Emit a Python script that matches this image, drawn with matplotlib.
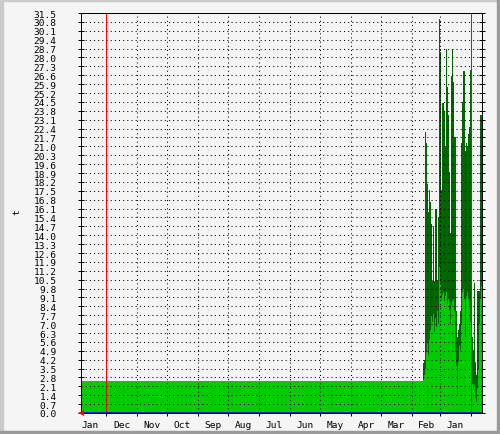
import matplotlib
matplotlib.use("Agg")
import matplotlib.pyplot as plt
from matplotlib.patches import Rectangle
import numpy as np

# ---- data ----
month_labels = ["Jan", "Dec", "Nov", "Oct", "Sep", "Aug", "Jul", "Jun",
                "May", "Apr", "Mar", "Feb", "Jan"]
month_lengths = [31, 31, 30, 31, 30, 31, 31, 30, 31, 30, 31, 28, 31]
first_month_start = -6          # first (partial) Jan starts before the left edge
total_days = 401
year_marks = [25, 390]          # red vertical rules

flat_level = 2.55               # constant level before the active period
recent_start = 340
max_vals = [2.55, 2.55, 3.9, 4.2, 22.1, 21.3, 18.0, 15.8, 17.6, 16.6, 14.9, 10.4,
            14.7, 10.4, 16.1, 16.1, 10.5, 15.4, 31.0, 28.4, 17.6, 24.4, 24.4, 23.7,
            21.0, 28.7, 25.7, 23.5, 19.0, 14.2, 26.5, 28.7, 26.1, 21.7, 21.7, 8.0,
            6.0, 6.5, 7.0, 8.0, 21.3, 24.5, 26.9, 26.9, 20.6, 21.3, 21.0, 22.0,
            22.5, 27.0, 10.0, 6.0, 5.0, 10.2, 4.0, 3.0, 9.6, 9.6, 9.6, 23.5, 23.5]
avg_vals = [2.55, 2.55, 2.6, 3.0, 3.5, 4.8, 5.5, 4.6, 5.8, 6.5, 7.6, 7.2, 7.8, 6.4,
            7.5, 6.8, 8.0, 7.0, 11.5, 10.2, 9.0, 9.3, 9.5, 8.8, 9.2, 9.5, 8.6, 9.0,
            8.0, 7.0, 8.5, 8.8, 9.0, 8.0, 4.8, 3.7, 1.5, 4.0, 5.3, 5.0, 7.0, 9.5,
            9.8, 9.0, 6.0, 9.2, 9.5, 9.0, 8.5, 7.2, 2.0, 2.3, 1.8, 2.2, 1.2, 0.9,
            2.0, 3.5, 7.0, 9.0, 10.0]
y_max = 31.5
y_step = 0.7
y_label = "t"

# ---- figure ----
W, H = 500, 435
bg = "#F5F5F5"
fig = plt.figure(figsize=(W / 100, H / 100), dpi=100, facecolor=bg)
L, R, T, B = 81, 482, 14, 414
ax = fig.add_axes([L / W, 1 - B / H, (R - L) / W, (B - T) / H], facecolor=bg)

days = np.arange(recent_start, recent_start + len(max_vals))
xs = np.concatenate([[0], days, [total_days]])
ymax_s = np.concatenate([[flat_level], max_vals, [max_vals[-1]]])
yavg_s = np.concatenate([[flat_level], avg_vals, [avg_vals[-1]]])

ax.fill_between(xs, 0, ymax_s, step="post", color="#006600", linewidth=0, zorder=1)
ax.fill_between(xs, 0, yavg_s, step="post", color="#00CC00", linewidth=0, zorder=2)

ax.set_xlim(0, total_days)
ax.set_ylim(0, y_max)

# month boundaries and centres
starts = np.cumsum([first_month_start] + month_lengths[:-1])
bounds = [s for s in np.cumsum([first_month_start] + month_lengths) if 0 < s < total_days]
centres = [s + n / 2 for s, n in zip(starts, month_lengths)]

yt = np.round(np.arange(0, y_max + 1e-9, y_step), 1)
grid_kw = dict(color="black", linewidth=0.75, linestyle=(0, (1.0, 3.0)), zorder=3)
for v in yt[1:]:
    ax.axhline(v, **grid_kw)
for b in bounds:
    if b not in year_marks:
        ax.axvline(b, **grid_kw)
for m in year_marks:
    ax.axvline(m, color="#FF0000", linewidth=0.75, zorder=4)

ax.axhline(0, color="#0000FF", linewidth=1.2, zorder=5, clip_on=False)
ax.plot([0], [0], marker="<", color="#FF0000", markersize=4.5, clip_on=False,
        zorder=6, transform=ax.transAxes, markeredgewidth=0)

font = dict(family="DejaVu Sans Mono", size=6.8)
ax.set_yticks(yt)
ax.set_yticklabels([f"{v:.1f}" for v in yt], **font)
ax.tick_params(axis="y", which="major", direction="inout", length=4, width=0.72,
               left=True, right=True, pad=15.5, colors="black")
ax.set_xticks(bounds)
ax.set_xticklabels([])
ax.tick_params(axis="x", which="major", direction="out", length=2.5, width=0.72)
ax.set_xticks(centres, minor=True)
ax.set_xticklabels(month_labels, minor=True, **font)
ax.tick_params(axis="x", which="minor", length=0, pad=5)

for s in ["left", "top", "right", "bottom"]:
    ax.spines[s].set_color("black")
    ax.spines[s].set_linewidth(0.72)
    ax.spines[s].set_zorder(5)

fig.text(17 / W, 1 - 212 / H, y_label, rotation=90, ha="center", va="center", **font)

# frame shading
fig.add_artist(Rectangle((0, 0), 3 / W, 1, transform=fig.transFigure,
                         color="#CBCBCB", zorder=10))
fig.add_artist(Rectangle((0, 1 - 2 / H), 1, 2 / H, transform=fig.transFigure,
                         color="#CBCBCB", zorder=10))
fig.add_artist(Rectangle((1 - 3 / W, 0), 3 / W, 1, transform=fig.transFigure,
                         color="#999999", zorder=11))
fig.add_artist(Rectangle((0, 0), 1, 3 / H, transform=fig.transFigure,
                         color="#999999", zorder=11))

fig.savefig("out.png", dpi=100, facecolor=bg)
